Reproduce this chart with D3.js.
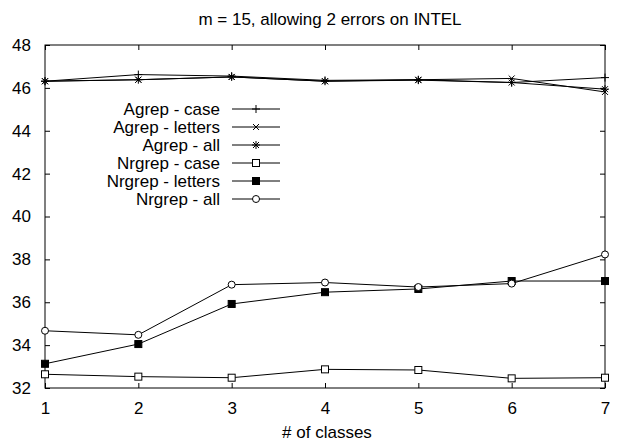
<!DOCTYPE html>
<html>
<head>
<meta charset="utf-8">
<script src="https://cdn.jsdelivr.net/npm/d3@7"></script>
<style>
  body { margin: 0; background: #fff; }
  svg { display: block; font-family: "Liberation Sans", Arial, sans-serif; }
</style>
</head>
<body>
<svg id="chart" width="623" height="444"></svg>
<script>
// x values (# of classes)
const classes = [1, 2, 3, 4, 5, 6, 7];
const yTicks = [32, 34, 36, 38, 40, 42, 44, 46, 48];

// series values
const agrepCase    = [46.31, 46.62, 46.55, 46.35, 46.38, 46.25, 46.48];
const agrepLetters = [46.31, 46.38, 46.51, 46.31, 46.38, 46.44, 45.81];
const agrepAll     = [46.31, 46.38, 46.51, 46.31, 46.36, 46.25, 45.94];
const nrgrepCase    = [32.64, 32.53, 32.48, 32.87, 32.84, 32.45, 32.48];
const nrgrepLetters = [33.13, 34.05, 35.92, 36.47, 36.62, 36.99, 36.99];
const nrgrepAll     = [34.67, 34.48, 36.82, 36.92, 36.71, 36.87, 38.23];

const seriesNames = ["Agrep - case", "Agrep - letters", "Agrep - all",
                     "Nrgrep - case", "Nrgrep - letters", "Nrgrep - all"];
const seriesValues = [agrepCase, agrepLetters, agrepAll, nrgrepCase, nrgrepLetters, nrgrepAll];
const seriesMarks = ["plus", "times", "star", "square", "filledSquare", "circle"];

const svg = d3.select("#chart"),
    margin = {top: 45, right: 18, bottom: 56, left: 45},
    width = +svg.attr("width"),
    height = +svg.attr("height");

var x = d3.scaleLinear()
    .domain([1, 7])
    .range([margin.left, width - margin.right]);

var y = d3.scaleLinear()
    .domain([32, 48])
    .range([height - margin.bottom, margin.top]);

const fontSize = 17;

// title
svg.append("text")
    .attr("x", 330)
    .attr("y", 25)
    .attr("text-anchor", "middle")
    .attr("font-size", fontSize)
    .text("m = 15, allowing 2 errors on INTEL");

// axes, ticks pointing inward like gnuplot
svg.append("g")
    .attr("transform", "translate(0," + y(32) + ")")
    .call(d3.axisBottom(x).tickValues(classes).tickSize(-5).tickPadding(14).tickFormat(d3.format("d")))
    .call(g => g.select(".domain").remove())
    .call(g => g.selectAll("text").attr("font-size", fontSize).attr("fill", "#000").attr("font-family", null));

svg.append("g")
    .attr("transform", "translate(0," + y(48) + ")")
    .call(d3.axisTop(x).tickValues(classes).tickSize(-5).tickFormat(""))
    .call(g => g.select(".domain").remove());

svg.append("g")
    .attr("transform", "translate(" + x(1) + ",0)")
    .call(d3.axisLeft(y).tickValues(yTicks).tickSize(-5).tickPadding(14))
    .call(g => g.select(".domain").remove())
    .call(g => g.selectAll("text").attr("font-size", fontSize).attr("fill", "#000").attr("font-family", null));

svg.append("g")
    .attr("transform", "translate(" + x(7) + ",0)")
    .call(d3.axisRight(y).tickValues(yTicks).tickSize(-5).tickFormat(""))
    .call(g => g.select(".domain").remove());

svg.append("rect")
    .attr("x", x(1))
    .attr("y", y(48))
    .attr("width", x(7) - x(1))
    .attr("height", y(32) - y(48))
    .attr("fill", "none")
    .attr("stroke", "#000")
    .attr("stroke-width", 1);

svg.append("text")
    .attr("x", 327)
    .attr("y", 438)
    .attr("text-anchor", "middle")
    .attr("font-size", fontSize)
    .text("# of classes");

// point markers
function drawMark(g, kind) {
    if (kind == "plus" || kind == "star") {
        g.append("path").attr("d", "M-4,0H4M0,-4V4").attr("stroke", "#000").attr("fill", "none");
    }
    if (kind == "times" || kind == "star") {
        g.append("path").attr("d", "M-3,-3L3,3M-3,3L3,-3").attr("stroke", "#000").attr("fill", "none");
    }
    if (kind == "square" || kind == "filledSquare") {
        g.append("rect").attr("x", -3.5).attr("y", -3.5).attr("width", 7).attr("height", 7)
            .attr("fill", kind == "square" ? "#fff" : "#000").attr("stroke", "#000");
    }
    if (kind == "circle") {
        g.append("circle").attr("r", 3.5).attr("fill", "#fff").attr("stroke", "#000");
    }
}

var line = d3.line()
    .x((d, i) => x(classes[i]))
    .y(d => y(d));

seriesValues.forEach(function(vals, s) {
    svg.append("path")
        .attr("d", line(vals))
        .attr("fill", "none")
        .attr("stroke", "#000")
        .attr("stroke-width", 1);
    vals.forEach(function(v, i) {
        var g = svg.append("g").attr("transform", "translate(" + x(classes[i]) + "," + y(v) + ")");
        drawMark(g, seriesMarks[s]);
    });
});

// legend
var legend = svg.append("g");
seriesNames.forEach(function(name, i) {
    var ly = 109 + i * 18;
    legend.append("text")
        .attr("x", 220)
        .attr("y", ly)
        .attr("dy", "0.35em")
        .attr("text-anchor", "end")
        .attr("font-size", fontSize)
        .text(name);
    legend.append("line")
        .attr("x1", 232).attr("x2", 280)
        .attr("y1", ly).attr("y2", ly)
        .attr("stroke", "#000");
    var g = legend.append("g").attr("transform", "translate(256," + ly + ")");
    drawMark(g, seriesMarks[i]);
});
</script>
</body>
</html>
